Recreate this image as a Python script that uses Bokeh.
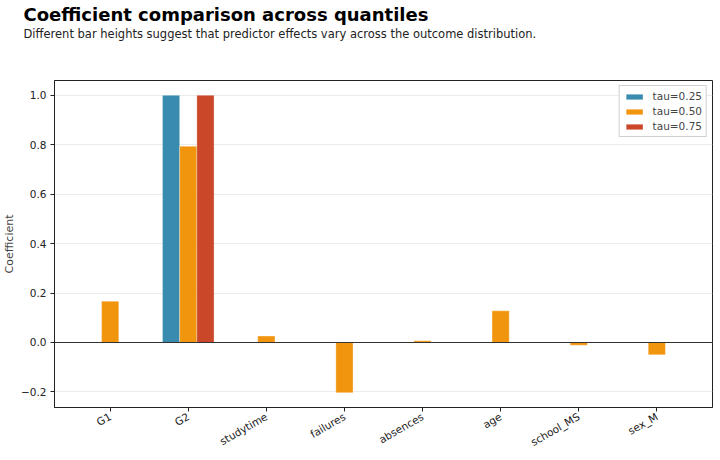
import math
from bokeh.plotting import figure
from bokeh.models import (ColumnDataSource, FixedTicker, Span, Title, Legend,
                          LegendItem, Range1d)
from bokeh.embed import file_html
from bokeh.resources import INLINE

# Quantile regression coefficients per predictor
features = ["G1", "G2", "studytime", "failures", "absences", "age", "school_MS", "sex_M"]
tau_025 = [0.0, 1.0, 0.0, 0.0, 0.0, 0.0, 0.0, 0.0]
tau_050 = [0.167, 0.794, 0.026, -0.203, 0.007, 0.128, -0.011, -0.050]
tau_075 = [0.0, 1.0, 0.0, 0.0, 0.0, 0.0, 0.0, 0.0]
series_labels = ["tau=0.25", "tau=0.50", "tau=0.75"]
series_colors = ["#2E86AB", "#F18F01", "#C73E1D"]
y_ticks = [-0.2, 0.0, 0.2, 0.4, 0.6, 0.8, 1.0]

title_text = "Coefficient comparison across quantiles"
subtitle_text = "Different bar heights suggest that predictor effects vary across the outcome distribution."

FONT = "DejaVu Sans"
bar_w = 0.22

p = figure(width=720, height=460, output_backend="svg", toolbar_location=None,
           title=None, x_range=Range1d(-0.713, 7.713), y_range=Range1d(-0.263, 1.06),
           min_border_left=54, min_border_right=8, min_border_top=80,
           min_border_bottom=53)
p.background_fill_color = "white"
p.border_fill_color = "white"
p.outline_line_color = "#222222"
p.outline_line_width = 1

# Heading block: panels stack outward from the frame, so the gap goes in first,
# then the subheading, then the heading on top.
p.add_layout(Title(text=" ", text_font=FONT, text_font_size="1px", standoff=37), "above")
p.add_layout(Title(text=subtitle_text, text_font=FONT, text_font_size="11.5px",
                   text_font_style="normal", text_color="#222222", align="left",
                   offset=-31, standoff=0), "above")
p.add_layout(Title(text=title_text, text_font=FONT, text_font_size="18px",
                   text_font_style="bold", text_color="black", align="left",
                   offset=-31, standoff=0), "above")

xs = list(range(len(features)))
renderers = []
for i, (vals, col) in enumerate(zip([tau_025, tau_050, tau_075], series_colors)):
    src = ColumnDataSource(dict(x=[x + (i - 1) * bar_w for x in xs], top=vals))
    r = p.vbar(x="x", top="top", bottom=0, width=bar_w, source=src,
               fill_color=col, fill_alpha=0.95, line_color="white", line_width=0.6,
               line_alpha=0.5)
    renderers.append(r)

p.add_layout(Span(location=0, dimension="width", line_color="#333333", line_width=1.2))

# Axes
p.xaxis.ticker = FixedTicker(ticks=xs)
p.xaxis.major_label_overrides = {i: f for i, f in enumerate(features)}
p.xaxis.major_label_orientation = math.radians(30)
p.yaxis.ticker = FixedTicker(ticks=y_ticks)
p.yaxis.major_label_overrides = {t: (f"{t:.1f}".replace("-", "\u2212")) for t in y_ticks}
p.yaxis.axis_label = "Coefficient"
for ax in (p.xaxis[0], p.yaxis[0]):
    ax.major_label_text_font = FONT
    ax.major_label_text_font_size = "10.5px"
    ax.major_label_text_color = "#222222"
    ax.major_label_standoff = 4
    ax.axis_line_color = "#222222"
    ax.major_tick_line_color = "#222222"
    ax.major_tick_in = 0
    ax.major_tick_out = 4
    ax.minor_tick_line_color = None
    ax.axis_label_text_font = FONT
    ax.axis_label_text_font_size = "11px"
    ax.axis_label_text_font_style = "normal"
    ax.axis_label_standoff = 2

p.xgrid.grid_line_color = None
p.ygrid.grid_line_color = "#e6e6e6"
p.ygrid.grid_line_alpha = 0.8

legend = Legend(items=[LegendItem(label=l, renderers=[r]) for l, r in zip(series_labels, renderers)],
                location="top_right", label_text_font=FONT, label_text_font_size="10.5px",
                glyph_width=21, glyph_height=7, label_height=12, spacing=3,
                label_standoff=8, padding=4, margin=5,
                border_line_color="#cccccc", border_line_alpha=0.9,
                background_fill_alpha=0.9)
p.add_layout(legend)

open("out.html", "w").write(file_html(p, INLINE))
